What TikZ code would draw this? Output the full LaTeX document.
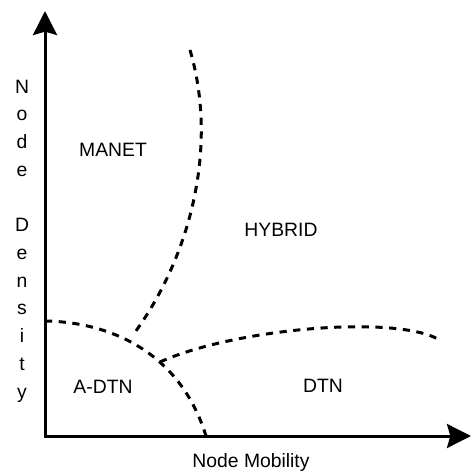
\documentclass[tikz,border=0pt]{standalone}
\usepackage{fontspec}
\setmainfont{Liberation Sans}
\usetikzlibrary{arrows.meta}

\tikzset{
  axis/.style={line width=2.25pt, {Stealth[length=18pt,width=18pt,inset=2.5pt]}-{Stealth[length=18pt,width=18pt,inset=2.5pt]}},
  border/.style={line width=2.25pt, dash pattern=on 5.4pt off 4.9pt},
  region/.style={font=\fontsize{14.5}{20.8}\selectfont, anchor=base},
}

\begin{document}
\begin{tikzpicture}[x=0.75pt, y=-0.75pt]
  \useasboundingbox (0,0) rectangle (472,471);
  \coordinate (O) at (45,436);
  \coordinate (ytip) at (45,11);
  \coordinate (xtip) at (471,436);
  \draw[axis] (ytip) -- (O) -- (xtip);
  % axis labels
  \node[font=\fontsize{14.5}{20.8}\selectfont, align=center] (ylabel) at (22,241)
    {N\\o\\d\\e\\\mbox{}\\D\\e\\n\\s\\i\\t\\y};
  \node[region] (xlabel) at (251,467) {Node Mobility};
  % region borders
  \draw[border] (190,50) .. controls (218,145) and (192,255) .. (133,335);
  \draw[border] (45,321) .. controls (110,322) and (180,352) .. (206,436);
  \draw[border] (160,362) .. controls (230,330) and (390,314) .. (438,339);
  % regions
  \node[region] (manet) at (113,156) {MANET};
  \node[region] (hybrid) at (281,236) {HYBRID};
  \node[region] (adtn) at (103,393) {A-DTN};
  \node[region] (dtn) at (323,392) {DTN};
\end{tikzpicture}
\end{document}
